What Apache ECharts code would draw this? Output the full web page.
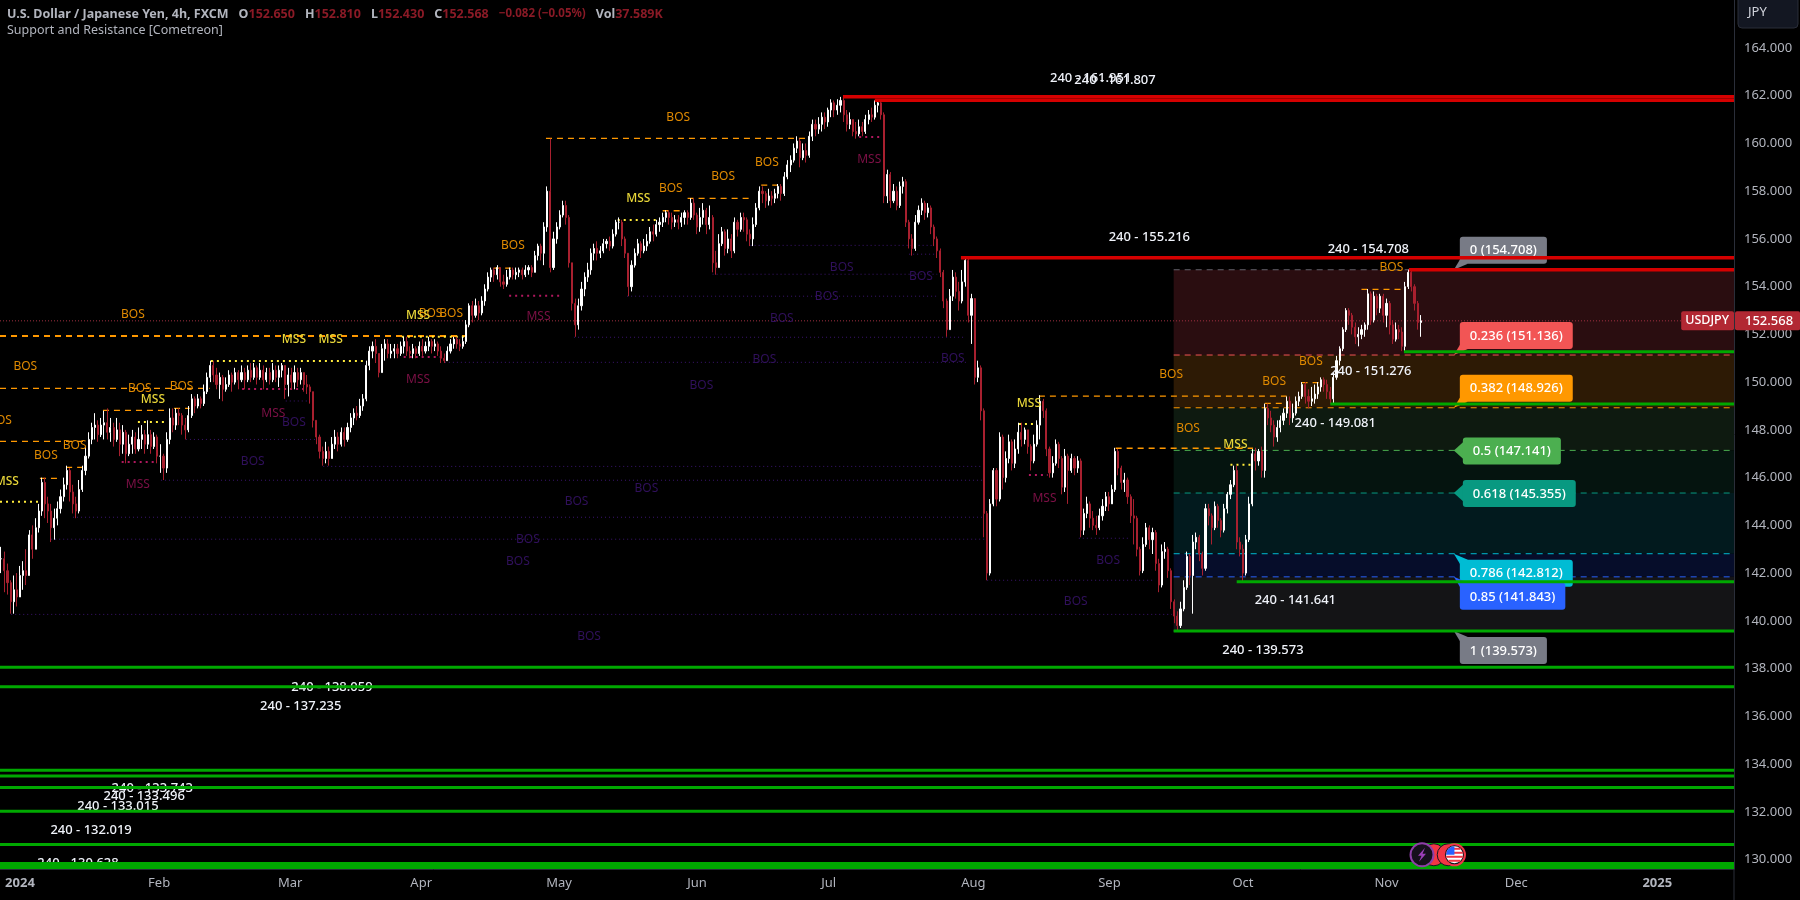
<!DOCTYPE html>
<html><head><meta charset="utf-8">
<style>html,body{margin:0;padding:0;background:#000}#c{width:1800px;height:900px}</style>
<script src="https://cdn.jsdelivr.net/npm/echarts@6/dist/echarts.min.js"></script>
</head><body><div id="c"></div>
<script>
// Candle rows: [close, low, high]; the open is the previous close.
const dec23=[[142.6,142.0,143.1],[142.1,141.2,142.9],[141.6,141.1,142.4],[140.8,140.3,141.7],[141.3,140.3,141.9],[141.0,140.6,142.0]];
const jan=[[141.9,141.0,142.3],[142.1,141.3,142.5],[141.9,141.5,143.0],[143.6,141.9,143.8],[143.0,142.6,144.0],[143.9,143.0,144.3],[144.6,143.7,144.9],[145.8,144.4,146.0],[144.9,144.3,146.0],[144.6,144.1,145.2],[143.9,143.3,144.9],[144.3,143.4,144.7],[144.7,144.0,145.0],[145.2,144.5,145.5],[145.7,145.0,146.0],[146.3,145.5,146.5],[145.4,145.0,146.4],[144.9,144.5,145.7],[144.6,144.3,145.2],[145.5,144.5,145.9],[146.3,145.4,146.5],[146.9,146.1,147.3],[147.6,146.8,147.9],[148.1,147.4,148.3],[148.2,147.6,148.7],[147.8,147.5,148.4],[148.2,147.7,148.5],[148.3,147.6,148.8],[147.9,147.6,148.9],[148.1,147.5,148.5],[147.6,147.3,148.3],[148.0,147.5,148.5],[147.4,146.9,148.3],[147.9,147.0,148.2],[147.0,146.6,148.0],[147.4,146.9,147.8],[147.7,147.0,148.0],[147.2,147.0,147.9],[147.6,147.1,148.1],[147.8,147.2,148.2],[147.4,147.0,148.0],[147.8,147.2,148.4],[147.3,147.0,148.0],[147.7,147.2,147.9],[146.9,146.6,147.8],[146.9,146.2,147.4]];
const feb=[[146.4,145.9,147.0],[147.6,146.2,147.9],[148.5,147.4,148.9],[148.2,147.9,148.9],[148.7,148.0,148.9],[148.6,148.2,148.9],[148.2,147.8,148.7],[148.0,147.6,148.5],[148.6,147.9,149.0],[149.3,148.5,149.5],[149.0,148.7,149.4],[149.3,148.9,149.5],[149.1,148.9,149.4],[149.6,149.0,149.9],[150.2,149.5,150.4],[150.7,150.0,150.9],[150.3,150.0,150.9],[149.9,149.7,150.6],[150.2,149.3,150.4],[149.7,149.2,150.3],[149.9,149.6,150.2],[150.3,149.8,150.5],[150.0,149.6,150.4],[150.4,149.9,150.6],[150.1,149.7,150.5],[150.4,150.0,150.7],[150.1,149.7,150.6],[150.5,150.0,150.7],[150.2,150.0,150.8],[150.6,150.1,150.8],[150.2,149.9,150.7],[150.5,150.1,150.8],[150.1,149.7,150.7],[150.4,150.0,150.6],[150.1,149.9,150.6],[150.5,150.0,150.8],[150.2,150.0,150.7],[150.5,149.8,150.7],[150.7,150.2,150.8],[149.9,149.3,150.7],[150.3,149.4,150.6],[150.0,149.7,150.6]];
const mar=[[150.4,149.7,150.7],[150.1,149.8,150.6],[150.4,149.9,150.6],[149.9,149.6,150.4],[149.8,149.5,150.3],[149.6,149.1,149.9],[148.4,148.1,149.6],[147.7,147.4,148.4],[147.1,146.8,147.8],[146.8,146.5,147.3],[147.1,146.6,147.5],[146.8,146.5,147.3],[147.4,146.8,147.7],[147.7,147.2,148.0],[147.4,147.1,147.9],[147.9,147.3,148.1],[147.6,147.3,148.1],[148.1,147.5,148.3],[148.5,147.9,148.7],[148.7,148.2,148.9],[148.6,148.4,149.0],[149.0,148.5,149.3],[149.3,148.8,149.5],[150.7,149.2,150.9],[151.3,150.5,151.5],[151.5,151.0,151.7],[151.2,150.8,151.8],[150.4,150.2,151.2],[151.4,150.4,151.6],[151.6,150.9,151.8],[151.2,151.0,151.8],[151.3,151.0,151.6],[151.4,151.0,151.6],[151.2,151.0,151.6],[151.5,151.1,151.7],[151.7,151.2,151.9],[151.3,151.1,151.9],[151.2,151.0,151.5],[151.4,151.0,151.6],[151.2,151.0,151.5],[151.5,151.1,151.7],[151.3,151.1,151.8]];
const apr=[[151.5,151.2,151.7],[151.7,151.3,151.9],[151.5,151.2,151.8],[151.6,151.3,151.8],[151.3,151.1,151.7],[151.0,150.8,151.5],[150.9,150.8,151.2],[151.3,150.9,151.5],[151.6,151.2,151.8],[151.8,151.4,151.9],[151.6,151.4,151.9],[151.5,151.3,151.8],[151.7,151.4,151.9],[152.4,151.6,152.6],[153.2,152.3,153.3],[152.8,152.5,153.4],[153.2,152.7,153.5],[152.9,152.6,153.4],[153.4,152.8,153.6],[153.9,153.2,154.1],[154.4,153.8,154.6],[154.7,154.2,154.8],[154.5,154.2,154.8],[154.8,154.3,154.9],[154.2,154.0,154.8],[154.1,153.9,154.5],[154.4,154.0,154.7],[154.7,154.3,154.8],[154.5,154.3,154.8],[154.6,154.3,154.8],[154.7,154.4,154.8],[154.5,154.3,154.8],[154.7,154.4,154.9],[154.8,154.5,154.9],[154.6,154.4,154.9],[155.3,154.6,155.5],[155.7,155.1,155.8],[155.4,155.1,155.8],[156.5,154.9,156.7],[158.0,156.3,158.2],[154.8,154.6,160.2],[156.0,154.7,156.3],[156.5,155.8,156.7],[157.0,156.4,157.2]];
const may=[[157.4,156.9,157.6],[156.9,156.6,157.6],[155.0,154.8,157.0],[153.3,153.0,155.0],[152.4,151.9,153.5],[153.2,152.2,153.5],[153.9,153.0,154.2],[154.4,153.6,154.6],[154.7,154.2,155.0],[155.4,154.5,155.6],[155.6,155.1,155.8],[155.4,155.1,155.9],[155.5,155.2,155.7],[155.8,155.4,156.0],[155.9,155.6,156.0],[155.7,155.5,156.1],[156.2,155.6,156.4],[156.7,156.1,156.8],[156.7,156.4,156.9],[156.0,155.7,156.8],[155.4,155.2,156.1],[154.0,153.6,155.4],[154.9,153.8,155.1],[155.4,154.8,155.6],[155.8,155.3,156.0],[155.5,155.2,155.9],[155.7,155.4,156.0],[155.9,155.5,156.2],[156.3,155.8,156.5],[156.2,155.9,156.6],[156.6,156.1,156.8],[156.7,156.3,156.9],[156.9,156.5,157.1],[157.1,156.7,157.2],[156.9,156.6,157.2],[156.7,156.4,157.1],[156.8,156.5,157.0],[156.7,156.4,157.0],[156.9,156.5,157.1],[157.1,156.6,157.2],[156.9,156.6,157.2],[157.5,156.8,157.7],[157.0,156.8,157.7],[156.5,156.2,157.1],[156.9,156.3,157.3],[157.2,156.6,157.5]];
const jun=[[156.6,156.2,157.3],[156.9,156.4,157.4],[155.0,154.6,157.0],[154.8,154.5,155.5],[155.8,154.8,156.2],[156.3,155.7,156.5],[155.6,155.3,156.4],[156.0,155.4,156.4],[155.5,155.2,156.2],[156.7,155.4,156.9],[156.4,156.1,156.8],[156.9,156.3,157.1],[156.8,156.3,157.1],[156.2,155.9,156.9],[156.0,155.7,156.4],[156.6,155.7,156.9],[157.3,156.5,157.5],[158.0,157.2,158.2],[157.9,157.5,158.2],[157.6,157.3,158.0],[157.8,157.4,158.1],[157.7,157.4,158.0],[157.9,157.5,158.1],[158.2,157.7,158.3],[157.9,157.6,158.3],[158.6,157.8,158.8],[159.1,158.5,159.3],[159.3,158.8,159.5],[159.8,159.2,160.0],[160.1,159.6,160.3],[159.4,159.0,160.2],[159.7,159.3,160.0],[159.5,159.2,160.0],[160.3,159.4,160.5],[160.8,160.1,161.0],[160.6,160.3,161.0],[160.8,160.4,161.1],[161.1,160.5,161.3],[160.9,160.6,161.3],[161.4,160.7,161.5]];
const jul=[[161.7,161.1,161.85],[161.4,161.1,161.8],[161.6,161.2,161.85],[161.8,161.3,161.95],[161.2,160.9,161.95],[160.8,160.5,161.4],[161.0,160.6,161.3],[160.5,160.3,161.0],[160.4,160.2,160.9],[160.7,160.3,161.0],[160.5,160.3,160.9],[161.0,160.4,161.2],[161.2,160.8,161.4],[161.1,160.9,161.5],[161.6,161.0,161.8],[161.7,161.3,161.81],[161.2,161.0,161.75],[157.8,157.5,161.3],[158.7,157.5,158.9],[157.6,157.3,158.8],[158.0,157.5,158.3],[157.4,157.2,158.2],[158.2,157.3,158.4],[158.4,157.9,158.6],[156.7,156.5,158.5],[156.0,155.6,156.8],[155.6,155.3,156.2],[156.7,155.5,157.0],[157.2,156.6,157.4],[157.5,157.0,157.7],[157.1,156.8,157.6],[157.3,156.9,157.5],[156.5,156.2,157.4],[156.0,155.7,156.6],[155.5,155.2,156.1],[154.6,154.4,155.6],[153.4,153.1,154.7],[152.2,151.9,153.5],[153.6,152.2,153.9],[154.4,153.4,154.7],[153.8,153.5,154.6],[153.4,153.0,154.2],[154.2,153.3,154.7],[155.1,154.0,155.2],[152.8,152.5,155.2],[153.5,151.6,153.7]];
const aug=[[150.2,149.9,151.8],[150.6,150.0,150.9],[148.8,148.4,150.7],[144.5,143.5,148.9],[142.0,141.7,144.6],[144.9,141.9,145.1],[146.3,144.8,146.4],[145.1,144.8,146.4],[147.7,145.0,147.9],[146.0,145.5,147.8],[146.8,145.8,147.1],[147.5,146.6,147.8],[146.6,146.3,147.6],[147.2,146.4,147.6],[147.9,147.0,148.3],[147.6,147.3,148.3],[148.0,147.4,148.1],[147.3,147.0,148.0],[146.7,146.3,147.4],[147.4,146.6,147.8],[148.2,147.3,148.4],[149.2,147.6,149.45],[148.8,148.5,149.3],[147.2,146.9,148.9],[146.2,146.0,147.3],[146.6,146.0,146.9],[147.4,146.5,147.6],[146.8,146.4,147.5],[145.6,145.3,146.9],[146.9,145.4,147.2],[146.3,144.9,147.0],[146.8,146.2,147.0],[146.4,146.1,146.9],[146.7,146.2,146.9],[143.8,143.5,146.8],[144.5,143.6,144.7],[144.9,144.3,145.2],[144.3,143.9,145.0],[144.0,143.8,144.6],[143.9,143.6,144.4],[144.4,143.8,144.7],[144.8,144.2,145.1],[145.2,144.6,145.4],[144.9,144.6,145.4]];
const sep=[[145.5,144.9,145.7],[147.1,145.4,147.25],[146.4,146.1,147.2],[145.8,145.5,146.5],[145.9,145.4,146.2],[145.2,144.9,146.0],[144.4,144.1,145.3],[144.3,143.2,145.1],[143.0,142.7,144.4],[142.1,141.9,143.1],[143.2,142.0,143.5],[143.9,143.1,144.1],[143.4,143.0,144.0],[143.7,142.8,143.9],[142.4,142.1,143.8],[141.5,141.2,142.6],[142.9,141.4,143.2],[143.0,142.6,143.3],[142.1,141.8,143.1],[140.8,140.5,142.2],[140.2,139.9,140.9],[139.8,139.57,140.4],[140.5,139.7,140.8],[141.4,140.4,141.7],[142.7,141.3,142.9],[141.9,141.5,142.8],[143.3,140.3,143.6],[143.5,143.0,143.7],[142.8,142.5,143.6],[142.2,141.9,142.9],[144.7,142.1,144.9],[144.4,144.0,144.9],[143.9,143.2,144.5],[144.8,143.8,145.0],[144.2,143.9,144.9],[143.8,143.5,144.3],[144.7,143.7,144.9],[145.3,144.5,145.4],[145.7,145.1,145.9],[146.3,145.6,146.5],[143.3,143.0,146.5],[143.0,142.7,143.5]];
const oct=[[142.0,141.64,143.2],[143.4,141.9,143.6],[144.9,143.3,145.2],[147.0,144.8,147.2],[146.7,146.3,147.25],[147.1,146.5,147.2],[146.3,146.0,147.3],[148.9,146.0,149.1],[148.5,148.2,149.1],[148.2,147.9,148.8],[147.7,147.3,148.4],[148.1,147.5,148.4],[148.4,147.9,148.6],[148.7,148.2,148.9],[149.2,148.5,149.4],[148.5,148.2,149.4],[148.7,148.3,149.1],[149.2,148.6,149.4],[149.4,149.0,149.6],[149.9,149.3,150.0],[149.4,149.1,150.0],[149.2,148.9,149.7],[149.3,149.0,149.8],[149.5,149.1,149.9],[149.8,149.3,150.0],[150.1,149.6,150.2],[149.9,149.6,150.2],[149.6,149.3,150.1],[149.3,149.1,149.8],[150.2,149.1,150.4],[150.9,150.1,151.1],[151.4,150.7,151.5],[152.2,151.3,152.3],[153.0,152.1,153.1],[152.8,152.4,153.1],[152.3,152.0,152.9],[151.9,151.6,152.5],[152.0,151.5,152.3],[152.2,151.8,152.4],[152.4,151.9,152.5],[153.7,152.2,153.9],[152.6,152.4,153.8],[153.6,152.5,153.8],[153.1,152.8,153.7],[153.6,152.9,153.7],[152.8,152.5,153.7]];
const nov=[[153.3,152.3,153.5],[152.4,152.0,153.4],[151.8,151.6,152.6],[152.2,151.7,152.5],[152.1,151.8,152.4],[151.5,151.3,152.3],[154.0,151.28,154.2],[154.6,153.9,154.71],[154.0,153.8,154.7],[153.3,153.0,154.1],[152.5,152.2,153.4],[152.568,151.9,152.81]];
const candleMonths=[dec23,jan,feb,mar,apr,may,jun,jul,aug,sep,oct,nov];
// Trading-day numbers (0 = 1 Jan 2024) where each block of rows starts, and the last end.
const blockStarts=[-3,0,23,44,65,87,110,130,153,175,196,219,225];

const timeTicks=[0,22.3,43.3,64.3,86.4,108.5,129.6,152.8,174.6,196,219,239.8,262.4];
const timeLabels=['2024','Feb','Mar','Apr','May','Jun','Jul','Aug','Sep','Oct','Nov','Dec','2025'];
const priceTicks=[130,132,134,136,138,140,142,144,146,148,150,152,154,156,158,160,162,164];
const lastPrice=152.568;

// [price, first trading day]  (lines run to the right edge)
const resistance=[[161.951,131.9],[161.807,137],[155.216,150.8],[154.708,222.6]];
const support=[[151.276,221.8],[149.081,210],[141.641,195],[139.573,184.9],[138.059,-4],[137.235,-4],[133.743,-4],[133.496,-4],[133.015,-4],[132.019,-4],[130.628,-4],[129.83,-4],[129.72,-4],[129.64,-4]];
// [text, trading day, price]
const levelLabels=[['240 - 161.951',171.6,162.73],['240 - 161.807',175.5,162.64],['240 - 155.216',181,156.05],['240 - 154.708',216.1,155.57],['240 - 151.276',216.5,150.47],['240 - 149.081',210.8,148.26],['240 - 141.641',204.4,140.85],['240 - 139.573',199.2,138.78],['240 - 138.059',50,137.23],['240 - 137.235',45,136.4],['240 - 133.743',21.2,132.97],['240 - 133.496',19.9,132.67],['240 - 133.015',15.7,132.21],['240 - 132.019',11.4,131.21],['240 - 130.628',9.3,129.85]];

// [first day, last day, price]
const bosUp=[[-3.2,71.6,151.95],[-3.2,71.6,151.92],[-3.2,30.4,149.74],[13.3,23.7,148.82],[24.7,27.2,148.9],[-3.2,10.9,147.52],[7.4,10.1,146.43],[3.2,6.6,145.97],[84.3,126.1,160.21],[107,117.5,157.7],[118.8,121.5,158.25],[103,106,157.18],[163.3,203,149.41],[175.6,197.6,147.23],[215,222,153.89],[205.4,208.5,149.98],[199.5,203,149.11],[76,78.7,154.78]];
const mssUp=[[30.6,55.6,150.89],[18.9,23.6,148.33],[-3.2,2.9,144.99],[61.2,71.6,151.9],[95.8,102,156.79],[160.1,162.7,148.25],[194,197.6,146.54]];
const mssDown=[[61.5,68,151.05],[35.6,45.5,149.71],[16.3,21.6,146.65],[134.5,137.8,160.27],[161.7,164.7,146.11],[78.4,86.9,153.62]];
const bosDown=[[88.8,151.3,151.88],[68.1,151.8,150.83],[42.6,46.5,149.21],[26.6,47.8,147.6],[48.6,154.2,146.47],[22.6,154.3,145.89],[8.5,154.5,144.34],[5,154.6,143.42],[117.1,146.3,155.73],[142.5,146.6,155.36],[111,147,154.52],[97.3,147.3,153.6],[155,181.7,141.7],[169.7,177.9,143.46],[-1.4,184.6,140.27]];

// [trading day, price] of the small structure labels
const bosUpText=[[105.5,161.1],[18.1,152.83],[0.85,150.66],[-3.2,148.4],[19.2,149.75],[25.9,149.8],[8.76,147.34],[4.16,146.91],[65.8,152.88],[69.1,152.88],[79,155.71],[104.3,158.12],[112.7,158.6],[119.7,159.18],[184.5,150.33],[187.2,148.07],[201,150.04],[206.9,150.86],[219.8,154.8]];
const mssUpText=[[-2.1,145.85],[21.3,149.27],[43.9,151.77],[49.8,151.77],[63.8,152.78],[99.1,157.69],[161.7,149.12],[194.8,147.4]];
const mssDownText=[[18.9,145.71],[40.6,148.69],[83.1,152.73],[63.8,150.09],[136.1,159.32],[164.2,145.13]];
const bosDownText=[[37.3,146.67],[43.9,148.31],[79.8,142.49],[81.4,143.4],[89.2,145],[100.4,145.56],[109.2,149.84],[119.3,150.95],[122.1,152.68],[129.3,153.6],[131.7,154.8],[144.4,154.42],[149.5,151],[174.4,142.53],[169.2,140.8],[91.2,139.32]];

const fibStartDay=184.9;
const fibTagDay=229.8;
const fibRatios=['0','0.236','0.382','0.5','0.618','0.786','0.85','1'];
const fibPrices=[154.708,151.136,148.926,147.141,145.355,142.812,141.843,139.573];
const fibColors=['#787b86','#f25555','#ff9800','#4caf50','#089981','#00bcd4','#2962ff','#787b86'];
const fibFills=['#2a0d10','#2d1a05','#0e1a10','#05140f','#021a1e','#060d2a','#141416'];
const fibTagPlacement=['above','above','above','left','left','below','below','below'];
const eventDays=[224.7,229.9,228.9,226.6];
const eventPrice=130.2;

const FONT='"Noto Sans",sans-serif';
const GREY='#b2b5be';
const DOWN='#a8202f';

const candles=[];
let prev=candleMonths[0][0][0];
candleMonths.forEach((rows,m)=>{
  const step=(blockStarts[m+1]-blockStarts[m])/rows.length;
  rows.forEach((r,j)=>{
    candles.push([blockStarts[m]+j*step,prev,r[0],r[1],r[2]]);
    prev=r[0];
  });
});

const xMin=-3.2,xMax=274.7,yMin=129.604,yMax=166.009;

function custom(name,z,items,render,clip){
  return {type:'custom',name,z,silent:true,clip:clip!==false,animation:false,
    encode:{x:0,y:1},data:items.map((_,i)=>[xMin+1,yMin+1]),
    renderItem:(p,api)=>render(items[p.dataIndex],api)};
}
const segment=(style)=>(s,api)=>{
  const a=api.coord([s[0],s[2]]),b=api.coord([s[1],s[2]]);
  return {type:'line',shape:{x1:a[0],y1:a[1],x2:b[0],y2:a[1]},style:Object.assign({fill:null},style)};
};
const word=(text,color,weight)=>(s,api)=>{
  const a=api.coord([s[0],s[1]]);
  return {type:'text',x:a[0],y:a[1],style:{text,fill:color,fontSize:12,fontFamily:FONT,fontWeight:weight||400,align:'center',verticalAlign:'middle'}};
};
const levelLine=(color,width)=>(s,api)=>{
  const a=api.coord([s[1],s[0]]),b=api.coord([xMax,s[0]]);
  return {type:'line',shape:{x1:a[0],y1:a[1],x2:b[0],y2:a[1]},style:{stroke:color,lineWidth:width}};
};

function renderTag(i,api){
  const a=api.coord([fibTagDay,fibPrices[i]]);
  const place=fibTagPlacement[i],c=fibColors[i];
  const text=fibRatios[i]+' ('+fibPrices[i].toFixed(3)+')';
  const children=[];
  let tx,ty,poly;
  if(place==='left'){
    tx=a[0]+9;ty=a[1]-13;
    poly=[[a[0],a[1]],[a[0]+10,a[1]-9],[a[0]+10,a[1]+9]];
  }else if(place==='above'){
    tx=a[0]+6;ty=a[1]-33;
    poly=[[a[0],a[1]],[a[0]+6,a[1]-10],[a[0]+14,a[1]-6]];
  }else{
    tx=a[0]+6;ty=a[1]+6;
    poly=[[a[0],a[1]],[a[0]+6,a[1]+10],[a[0]+14,a[1]+6]];
  }
  children.push({type:'polygon',shape:{points:poly},style:{fill:c}});
  children.push({type:'text',x:tx,y:ty,style:{text,fill:'#fff',fontSize:13,fontFamily:FONT,fontWeight:500,align:'left',verticalAlign:'top',backgroundColor:c,padding:[5,10,4,10],borderRadius:3,lineHeight:18}});
  return {type:'group',children};
}

function renderEvent(k,api){
  const a=api.coord([eventDays[k],eventPrice]);
  const x=a[0],y=a[1];
  if(k===0){
    return {type:'group',children:[
      {type:'circle',shape:{cx:x,cy:y,r:11.5},style:{fill:'#16101c',stroke:'#8e3fa8',lineWidth:2}},
      {type:'polygon',shape:{points:[[x+3,y-7],[x-4,y+1],[x-0.5,y+1],[x-3,y+7],[x+4,y-1],[x+0.5,y-1]]},style:{fill:'#9c3fb8'}}
    ]};
  }
  if(k>1){
    return {type:'circle',shape:{cx:x,cy:y,r:11},style:{fill:'#f23645',stroke:'#131722',lineWidth:1}};
  }
  const r=8.5,kids=[{type:'circle',shape:{cx:x,cy:y,r:11.5},style:{fill:'#f23645'}},{type:'circle',shape:{cx:x,cy:y,r:9.5},style:{fill:'#131722'}},{type:'circle',shape:{cx:x,cy:y,r},style:{fill:'#fff'}}];
  [-6,-2,2,6].forEach(dy=>{
    const h=Math.sqrt(r*r-dy*dy);
    kids.push({type:'rect',shape:{x:x-h,y:y+dy-1,width:2*h,height:2},style:{fill:'#f23645'}});
  });
  kids.push({type:'sector',shape:{cx:x,cy:y,r,startAngle:Math.PI,endAngle:Math.PI*1.5},style:{fill:'#2962ff'}});
  return {type:'group',children:kids};
}

const priceBadge=(_,api)=>{
  const a=api.coord([xMax,lastPrice]);
  const base={fontSize:13,fontFamily:FONT,fill:'#fff',backgroundColor:'#b22833',verticalAlign:'middle',borderRadius:2,lineHeight:19};
  return {type:'group',children:[
    {type:'text',x:a[0],y:a[1],style:Object.assign({},base,{text:'USDJPY',fontSize:12.5,fontWeight:500,align:'right',padding:[0,5,0,4]})},
    {type:'text',x:a[0]+1,y:a[1],style:Object.assign({},base,{text:lastPrice.toFixed(3),fontWeight:500,align:'left',padding:[0,7,0,10]})}
  ]};
};

const series=[
  custom('fib fills',1,fibFills.map((_,i)=>i),(i,api)=>{
    const a=api.coord([fibStartDay,fibPrices[i]]),b=api.coord([xMax,fibPrices[i+1]]);
    return {type:'rect',shape:{x:a[0],y:a[1],width:b[0]-a[0],height:b[1]-a[1]},style:{fill:fibFills[i]}};
  }),
  custom('last price',2,[[xMin,xMax,lastPrice]],segment({stroke:'#a03040',lineWidth:1,lineDash:[1,2]})),
  custom('fib lines',2,fibPrices.map((_,i)=>i),(i,api)=>{
    const a=api.coord([fibStartDay,fibPrices[i]]),b=api.coord([xMax,fibPrices[i]]);
    return {type:'line',shape:{x1:a[0],y1:a[1],x2:b[0],y2:a[1]},style:{stroke:fibColors[i],lineWidth:1,lineDash:[6,5],opacity:i===0||i===7?0.8:1}};
  }),
  custom('bos down',2,bosDown,segment({stroke:'#3b1470',lineWidth:1,lineDash:[1,3]})),
  custom('bos up',3,bosUp,segment({stroke:'#ff9800',lineWidth:1.3,lineDash:[6,5]})),
  custom('mss up',3,mssUp,segment({stroke:'#ffeb3b',lineWidth:2,lineDash:[2,4]})),
  custom('mss down',3,mssDown,segment({stroke:'#b0185e',lineWidth:2,lineDash:[2,4]})),
  {type:'candlestick',name:'USDJPY',z:4,silent:true,large:false,barWidth:1.6,animation:false,data:candles,
    itemStyle:{color:'#ffffff',color0:DOWN,borderColor:'#ffffff',borderColor0:DOWN,borderWidth:1}},
  custom('bos up text',5,bosUpText,word('BOS','#e08a00')),
  custom('mss up text',5,mssUpText,word('MSS','#e8d638',500)),
  custom('mss down text',5,mssDownText,word('MSS','#7d1046')),
  custom('bos down text',5,bosDownText,word('BOS','#30105c')),
  custom('fib tags',6,fibPrices.map((_,i)=>i),renderTag),
  custom('level labels',6,levelLabels,(s,api)=>{
    const a=api.coord([s[1],s[2]]);
    return {type:'text',x:a[0],y:a[1],style:{text:s[0],fill:'#f0f3fa',fontSize:13,fontFamily:FONT,fontWeight:500,align:'center',verticalAlign:'middle'}};
  }),
  custom('resistance',7,resistance,levelLine('#d50000',3.5)),
  custom('support',7,support,levelLine('#00a800',3)),
  custom('events',8,[3,2,1,0],renderEvent),
  custom('price badge',9,[0],priceBadge,false)
];

const chart=echarts.init(document.getElementById('c'),null,{renderer:'canvas',width:1800,height:900});
chart.setOption({
  backgroundColor:'#000',
  animation:false,
  tooltip:{show:false},
  title:[
    {left:7,top:5,padding:0,text:'{g|U.S. Dollar / Japanese Yen, 4h, FXCM}  {g|O}{r|152.650}  {g|H}{r|152.810}  {g|L}{r|152.430}  {g|C}{r|152.568}  {c|\u22120.082 (\u22120.05%)}  {g|Vol}{r|37.589K}',
      textStyle:{rich:{g:{color:GREY,fontSize:12.5,fontFamily:FONT},r:{color:'#8a1a26',fontSize:12.5,fontFamily:FONT},c:{color:'#8a1a26',fontSize:11.5,fontFamily:FONT}}}},
    {left:7,top:24,padding:0,text:'Support and Resistance [Cometreon]',textStyle:{color:GREY,fontSize:12.5,fontWeight:400,fontFamily:FONT}}
  ],
  grid:{left:0,right:66,top:0,bottom:31,containLabel:false},
  xAxis:{type:'value',min:xMin,max:xMax,splitLine:{show:false},axisTick:{show:false},
    axisLine:{show:true,onZero:false,lineStyle:{color:'#2a2e39'}},
    axisLabel:{customValues:timeTicks,margin:8,color:GREY,fontSize:13,fontFamily:FONT,
      formatter:v=>{const s=timeLabels[timeTicks.indexOf(v)];return /^\d/.test(s)?'{b|'+s+'}':s;},
      rich:{b:{color:GREY,fontSize:13,fontWeight:700,fontFamily:FONT}}}},
  yAxis:{type:'value',position:'right',min:yMin,max:yMax,splitLine:{show:false},axisTick:{show:false},
    axisLine:{show:true,onZero:false,lineStyle:{color:'#2a2e39'}},
    axisLabel:{customValues:priceTicks,margin:10,color:GREY,fontSize:13,fontFamily:FONT,formatter:v=>v.toFixed(3)}},
  graphic:[
    {type:'line',z:20,shape:{x1:1734,y1:869,x2:1734,y2:900},style:{stroke:'#2a2e39',lineWidth:1}},
    {type:'rect',z:20,shape:{x:1738,y:-4,width:60,height:32,r:4},style:{fill:'#131722',stroke:'#2a2e39',lineWidth:1}},
    {type:'text',z:21,x:1748,y:6,style:{text:'JPY',fill:'#d1d4dc',fontSize:13,fontFamily:FONT}}
  ],
  series
});
</script></body></html>
